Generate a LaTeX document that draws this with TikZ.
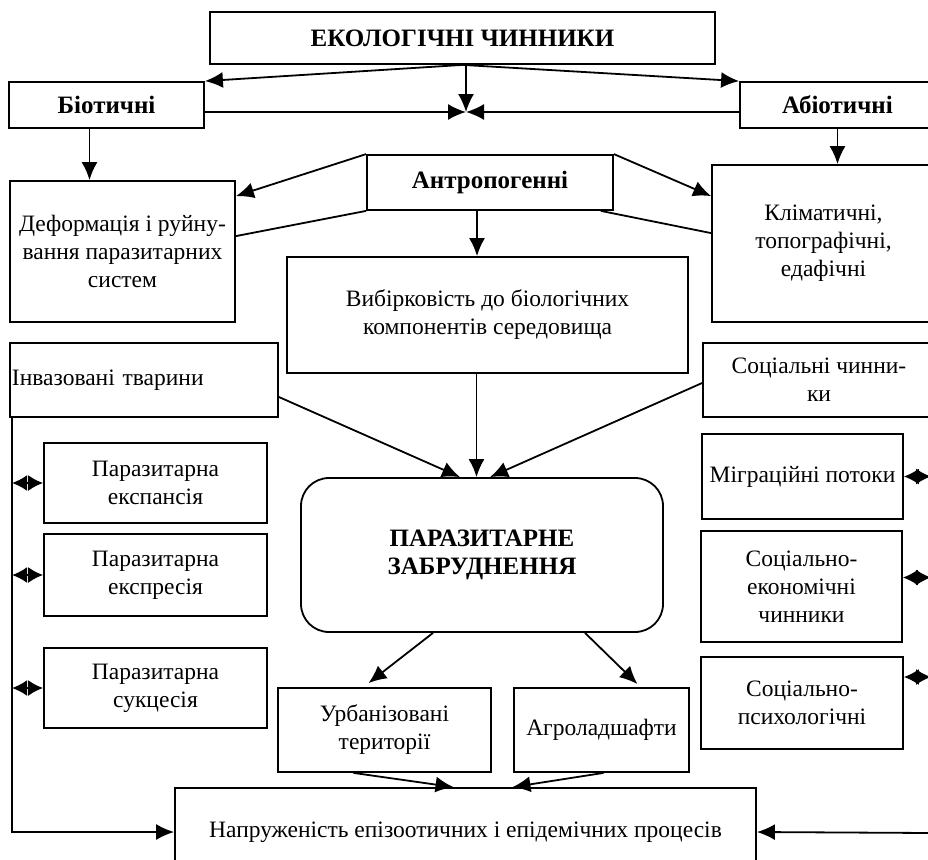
\documentclass[tikz,border=0pt]{standalone}
\usepackage{fontspec}
\setmainfont{Liberation Serif}
\usepackage{tikz}
\usetikzlibrary{arrows.meta}
\usetikzlibrary{positioning}
\usetikzlibrary{calc}
\tikzset{
    box/.style={draw=black, rectangle, inner sep=2pt, align=center,
        font=\fontsize{23.5}{28}\selectfont},
    boldbox/.style={box, font=\fontsize{25}{28}\selectfont\bfseries},
    arr/.style={draw=black, -{Latex[length=18pt,width=16pt]}},
    plain/.style={draw=black},
    dboth/.style={draw=black, {Latex[length=15pt,width=16pt]}-{Latex[length=15pt,width=16pt]}},
}

\begin{document}
\begin{tikzpicture}[x=1pt, y=-1pt, line width=1.8pt]
\useasboundingbox (0,0) rectangle (928,859);
% top level
	\node[boldbox, minimum width=505pt, minimum height=52pt] (ecol) at (462.5,38) {ЕКОЛОГІЧНІ ЧИННИКИ};
	\node[boldbox, minimum width=195pt, minimum height=46pt] (biot) at (106.5,105) {Біотичні};
	\node[boldbox, minimum width=195pt, minimum height=46pt] (abiot) at (837.5,105) {Абіотичні};
	\node[boldbox, minimum width=246pt, minimum height=55pt] (antro) at (490,182.5) {Антропогенні};
	\node[box, minimum width=225pt, minimum height=141pt] (deform) at (122.5,251.5) {Деформація і руйну-\\вання паразитарних\\систем};
	\node[box, minimum width=223pt, minimum height=157pt] (klim) at (823.5,243.5) {Кліматичні,\\топографічні,\\едафічні};
	\node[box, minimum width=401pt, minimum height=116pt] (vybir) at (487.5,315) {Вибірковість до біологічних\\компонентів середовища};
	\node[box, align=left, text width=264pt, minimum height=74pt] (invaz) at (144,380) {Інвазовані тварини};
	\node[box, minimum width=232pt, minimum height=74pt] (social) at (819,380) {Соціальні чинни-\\ки};
% left column
	\node[box, minimum width=223pt, minimum height=80pt] (ekspans) at (155.5,483) {Паразитарна\\експансія};
	\node[box, minimum width=223pt, minimum height=82pt] (ekspres) at (155.5,575) {Паразитарна\\експресія};
	\node[box, minimum width=223pt, minimum height=80pt] (sukces) at (155.5,688) {Паразитарна\\сукцесія};
% right column
	\node[box, minimum width=201pt, minimum height=85pt] (migr) at (802.5,476.5) {Міграційні потоки};
	\node[box, minimum width=201pt, minimum height=111pt] (soceco) at (801.5,586.5) {Соціально-\\економічні\\чинники};
	\node[box, minimum width=202pt, minimum height=92pt] (socpsy) at (802,703) {Соціально-\\психологічні};
% centre
	\node[boldbox, rounded corners=28pt, minimum width=362pt, minimum height=154pt] (parzab) at (482,555) {ПАРАЗИТАРНЕ\\ЗАБРУДНЕННЯ};
	\node[box, minimum width=213pt, minimum height=84pt] (urban) at (384.5,730) {Урбанізовані\\території};
	\node[box, minimum width=175pt, minimum height=84pt] (agro) at (601.5,730) {Агроладшафти};
	\node[box, minimum width=581pt, minimum height=88pt] (napr) at (465.5,832) {Напруженість епізоотичних і епідемічних процесів};
	\coordinate (meet) at (466,112);
	\coordinate (lline) at ([xshift=3pt]invaz.south west);
	\coordinate (rline) at (931,833);
% connectors
	\draw[arr] (ecol.south) -- (biot.north east);
	\draw[arr] (ecol.south) -- (abiot.north west);
	\draw[arr] (ecol.south -| meet) -- (meet);
	\draw[arr] (biot.east |- meet) -- (meet);
	\draw[arr] (abiot.west |- meet) -- (meet);
	\draw[arr] ([xshift=-17pt]biot.south) -- ([xshift=-17pt]biot.south |- deform.north);
	\draw[arr] (abiot.south) -- (abiot.south |- klim.north);
	\draw[arr] (antro.north west) -- ([yshift=-16pt]deform.north east);
	\draw[plain] (antro.south west) -- ([yshift=-56pt]deform.north east);
	\draw[arr] (antro.north east) -- ([yshift=-32pt]klim.north west);
	\draw[plain] ([xshift=-13pt]antro.south east) -- ([yshift=-69pt]klim.north west);
	\draw[arr] ([xshift=-13pt]antro.south) -- ([xshift=-13pt]antro.south |- vybir.north);
	\draw[arr] ([xshift=-11pt]vybir.south) -- ([xshift=-11pt]vybir.south |- parzab.north);
	\draw[arr] ([yshift=-17pt]invaz.east) -- ([xshift=-22pt]parzab.north);
	\draw[arr] ([yshift=-3pt]social.west) -- ([xshift=8pt]parzab.north);
	\draw[arr] ([xshift=-49pt]parzab.south) -- ([xshift=-16pt,yshift=4pt]urban.north);
	\draw[arr] ([xshift=103pt]parzab.south) -- ([xshift=36pt,yshift=3pt]agro.north);
	\draw[arr] ([xshift=-31pt]urban.south) -- ([xshift=-12pt]napr.north);
	\draw[arr] ([xshift=2pt]agro.south) -- ([xshift=47pt]napr.north);
% side lines
	\draw[arr] (lline) |- (napr.west);
	\draw[dboth] (lline |- ekspans.west) -- (ekspans.west);
	\draw[dboth] (lline |- ekspres.west) -- (ekspres.west);
	\draw[dboth] (lline |- sukces.west) -- (sukces.west);
	\draw[dboth] (migr.east) -- (migr.east -| rline);
	\draw[dboth] ([yshift=9pt]soceco.east) -- ([yshift=9pt]soceco.east -| rline);
	\draw[dboth] ([yshift=26pt]socpsy.east) -- ([yshift=26pt]socpsy.east -| rline);
	\draw[arr] (rline) -- (napr.east);
\end{tikzpicture}
\end{document}
